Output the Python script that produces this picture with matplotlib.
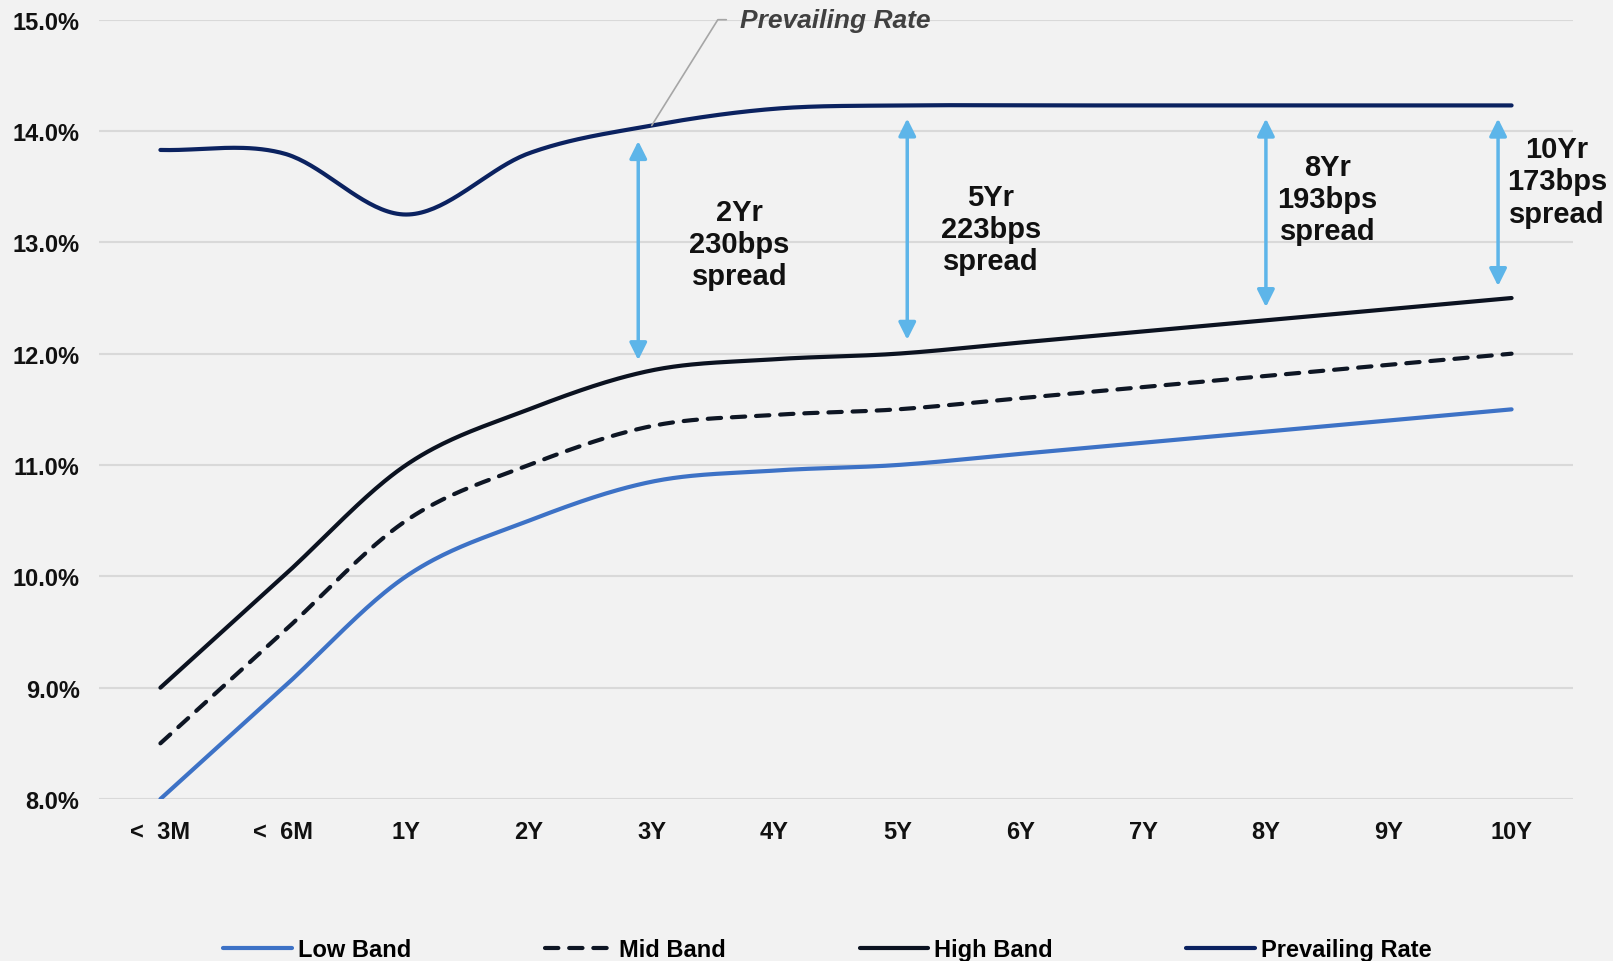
import matplotlib
matplotlib.use("Agg")
import matplotlib.pyplot as plt
import numpy as np

plt.rcParams['font.family'] = ['Liberation Sans', 'DejaVu Sans']

# tenors and rate curves (%)
tenors = ['<  3M', '<  6M', '1Y', '2Y', '3Y', '4Y', '5Y', '6Y', '7Y', '8Y', '9Y', '10Y']
low_band = [8.0, 9.0, 10.0, 10.5, 10.85, 10.95, 11.0, 11.1, 11.2, 11.3, 11.4, 11.5]
mid_band = [8.5, 9.5, 10.5, 11.0, 11.35, 11.45, 11.5, 11.6, 11.7, 11.8, 11.9, 12.0]
high_band = [9.0, 10.0, 11.0, 11.5, 11.85, 11.95, 12.0, 12.1, 12.2, 12.3, 12.4, 12.5]
prevailing = [13.83, 13.80, 13.25, 13.80, 14.05, 14.20, 14.23, 14.23, 14.23, 14.23, 14.23, 14.23]

# tenors where the spread vs high band is called out
spread_tenors = ['2Y', '5Y', '8Y', '10Y']
spread_names = ['2Yr', '5Yr', '8Yr', '10Yr']


def smooth(ys, n=40):
    # Catmull-Rom through the points, ends extended by reflection
    ys = np.asarray(ys, float)
    xs = np.arange(len(ys), dtype=float)
    p = np.concatenate([[2 * ys[0] - ys[1]], ys, [2 * ys[-1] - ys[-2]]])
    X, Y = [], []
    for i in range(len(ys) - 1):
        t = np.linspace(0, 1, n, endpoint=False)
        p0, p1, p2, p3 = p[i], p[i + 1], p[i + 2], p[i + 3]
        y = 0.5 * ((2 * p1) + (-p0 + p2) * t + (2 * p0 - 5 * p1 + 4 * p2 - p3) * t ** 2
                   + (-p0 + 3 * p1 - 3 * p2 + p3) * t ** 3)
        X.append(xs[i] + t)
        Y.append(y)
    X.append([xs[-1]])
    Y.append([ys[-1]])
    return np.concatenate(X), np.concatenate(Y)


bg = '#F2F2F2'
fig = plt.figure(figsize=(16.13, 9.62), dpi=100, facecolor=bg)
ax = fig.add_axes([99 / 1613, 162 / 962, 1474 / 1613, 779.3 / 962])
ax.set_facecolor(bg)

x, y = smooth(low_band)
ax.plot(x, y, color='#3D72C6', lw=3, solid_capstyle='round', label='Low Band')
x, y = smooth(mid_band)
ax.plot(x, y, color='#0E1624', lw=3, dashes=(3.2, 2.6), dash_capstyle='round', label='Mid Band')
xh, yh = smooth(high_band)
ax.plot(xh, yh, color='#0B1220', lw=3, solid_capstyle='round', label='High Band')
xp, yp = smooth(prevailing)
ax.plot(xp, yp, color='#0B2260', lw=3, solid_capstyle='round', label='Prevailing Rate')

ax.set_xlim(-0.5, 11.5)
ax.set_ylim(8, 15)
ax.set_xticks(range(len(tenors)))
ax.set_xticklabels(tenors)
ax.set_yticks(np.arange(8, 16))
ax.set_yticklabels([f'{v:.1f}%' for v in np.arange(8, 16)])
ax.tick_params(axis='both', length=0, labelsize=17, labelcolor='#111111')
ax.tick_params(axis='x', pad=15)
ax.tick_params(axis='y', pad=14)
for lab in ax.get_xticklabels() + ax.get_yticklabels():
    lab.set_fontweight('bold')
ax.grid(axis='y', color='#D9D9D9', lw=1.5)
ax.set_axisbelow(True)
for s in ax.spines.values():
    s.set_visible(False)

# spread arrows between prevailing rate and high band
arrow_x = [3.89, 6.08, 9.0, 10.89]
label_xy = [(4.715, 12.985), (6.76, 13.12), (9.50, 13.39), (11.37, 13.55)]
for name, ten, ax_x, (lx, ly) in zip(spread_names, spread_tenors, arrow_x, label_xy):
    i = tenors.index(ten)
    bps = round((prevailing[i] - high_band[i]) * 100)
    top = np.interp(ax_x, xp, yp)
    bot = np.interp(ax_x, xh, yh)
    ax.annotate('', xy=(ax_x, bot), xytext=(ax_x, top),
                arrowprops=dict(arrowstyle='<|-|>', color='#5DB5E9', lw=2.5,
                                mutation_scale=26, shrinkA=9.5, shrinkB=9.5))
    ax.text(lx, ly, f'{name}\n{bps}bps\nspread', ha='center', va='center',
            fontsize=21, fontweight='bold', color='#111111', linespacing=1.2)

# callout for the prevailing rate line
ax.annotate('Prevailing Rate', xy=(4, prevailing[4]), xytext=(4.72, 15.0),
            ha='left', va='center', fontsize=19, fontweight='bold', fontstyle='italic',
            color='#404040', annotation_clip=False,
            arrowprops=dict(arrowstyle='-', color='#A6A6A6', lw=1.2, relpos=(0, 0.5),
                            shrinkA=8, shrinkB=0,
                            connectionstyle='angle,angleA=0,angleB=58,rad=0'))

fig.legend(loc='center', bbox_to_anchor=(0.513, 0.012), ncol=4, frameon=False,
           prop={'weight': 'bold', 'size': 17}, handlelength=2.9, handletextpad=0.27,
           columnspacing=5.65, borderpad=0)

fig.savefig('out.png', dpi=100, facecolor=bg)
